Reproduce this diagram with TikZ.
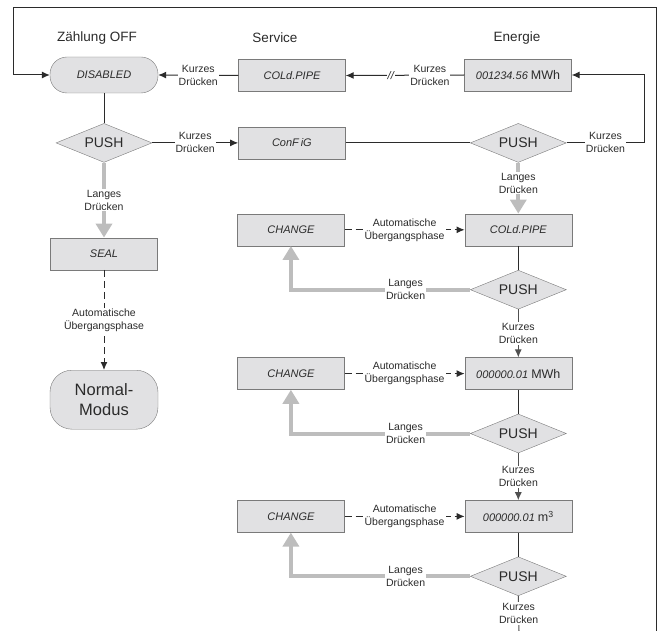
\documentclass[tikz,border=0pt]{standalone}
\usepackage{fontspec}
\setmainfont{Liberation Sans}
\usetikzlibrary{positioning,shapes.geometric,arrows.meta}

\definecolor{boxfill}{HTML}{E1E1E3}
\definecolor{boxline}{HTML}{7A7A7A}
\definecolor{dunkel}{HTML}{2B2B2B}
\definecolor{mittel}{HTML}{505050}
\definecolor{langgrau}{HTML}{BDBDBD}
\newcommand{\anz}{\fontsize{11}{13}\selectfont\itshape}
\newcommand{\einheit}{\upshape\fontsize{12.5}{14}\selectfont}

\tikzset{
  anzeige/.style={draw=boxline,fill=boxfill,minimum width=107pt,minimum height=32pt,inner sep=0pt,font=\anz,text=dunkel},
  kapsel/.style={draw=boxline,fill=boxfill,minimum width=108pt,inner sep=0pt,text=dunkel,align=center},
  push/.style={diamond,draw=boxline,fill=boxfill,minimum width=96pt,minimum height=39pt,inner sep=0pt,aspect=2.4,font=\fontsize{14}{16}\selectfont,text=dunkel},
  lbl/.style={fill=white,align=center,font=\fontsize{10.5}{13}\selectfont,text=dunkel,inner sep=1pt},
  titel/.style={font=\fontsize{13.5}{16}\selectfont,text=dunkel},
  linie/.style={draw=dunkel,line width=1pt},
  kurz/.style={linie,-{Latex[length=8pt,width=7pt]}},
  weiter/.style={draw=mittel,line width=1pt,-{Latex[length=8pt,width=7pt]}},
  lang/.style={draw=langgrau,line width=4pt,-{Triangle[length=14pt,width=16pt]}},
  uebergang/.style={kurz,dash pattern=on 7pt off 4pt},
}

\begin{document}
\begin{tikzpicture}[x=1pt,y=-1pt]
\useasboundingbox (0,0) rectangle (659,631);

% Spaltenkoepfe
\node[titel] (t1) at (97,38) {Zählung OFF};
\node[titel] (t2) at (275,38) {Service};
\node[titel] (t3) at (517,38) {Energie};

% obere Reihe
\node[kapsel,minimum height=36pt,rounded corners=17pt,font=\anz] (dis) at (104,75) {DISABLED};
\node[anzeige] (svc) at (292,75.5) {COLd.PIPE};
\node[anzeige] (en) at (518,75) {001234.56 {\einheit MWh}};

\node[push,below=30pt of dis] (push1) {PUSH};
\node[anzeige,right=86pt of push1] (conf) {ConF\,iG};
\node[push,right=124.5pt of conf] (push2) {PUSH};

% linke Spalte
\node[anzeige,below=75pt of push1] (seal) {SEAL};
\node[kapsel,below=100pt of seal,minimum height=59pt,rounded corners=22pt,font=\fontsize{16.5}{20}\selectfont] (normal) {Normal-\\Modus};

% rechte Spalte
\node[anzeige,below=51pt of push2] (cold2) {COLd.PIPE};
\node[anzeige,left=120pt of cold2] (chg1) {CHANGE};
\node[push,below=24pt of cold2] (push3) {PUSH};

\node[anzeige,below=48pt of push3] (mwh) {000000.01 {\einheit MWh}};
\node[anzeige,left=120pt of mwh] (chg2) {CHANGE};
\node[push,below=24pt of mwh] (push4) {PUSH};

\node[anzeige,below=47pt of push4] (m3) {000000.01 {\einheit m\textsuperscript{3}}};
\node[anzeige,left=120pt of m3] (chg3) {CHANGE};
\node[push,below=24pt of m3] (push5) {PUSH};

\coordinate (rueck) at (656,631);
\coordinate (unten) at (519,631);

% Verbindungen oben
\draw[kurz] (rueck) -- (656,8) -| (13,75) -- (dis.west);
\draw[kurz] (svc.west) -- node[lbl]{Kurzes\\Drücken} (dis.east);
\draw[kurz] (en.west) -- node[lbl,pos=.29]{Kurzes\\Drücken} node[pos=.62,fill=white,inner sep=1pt,font=\anz,text=dunkel]{//} (svc.east);
\draw[kurz] (push2.east) -- node[lbl]{Kurzes\\Drücken} ++(78,0) |- (en.east);
\draw[kurz] (push1.east) -- node[lbl]{Kurzes\\Drücken} (conf.west);
\draw[linie] (conf.east) -- (push2.west);
\draw[linie] (dis.south) -- (push1.north);

% links
\draw[lang] (push1.south) -- node[lbl]{Langes\\Drücken} (seal.north);
\draw[uebergang] (seal.south) -- node[lbl]{Automatische\\Übergangsphase} (normal.north);

% rechts
\draw[lang] (push2.south) -- node[lbl,pos=.4]{Langes\\Drücken} (cold2.north);
\draw[uebergang] (chg1.east) -- node[lbl]{Automatische\\Übergangsphase} (cold2.west);
\draw[linie] (cold2.south) -- (push3.north);
\draw[lang] (push3.west) -| node[lbl,pos=.18]{Langes\\Drücken} (chg1.south);
\draw[weiter] (push3.south) -- node[lbl]{Kurzes\\Drücken} (mwh.north);

\draw[uebergang] (chg2.east) -- node[lbl]{Automatische\\Übergangsphase} (mwh.west);
\draw[linie] (mwh.south) -- (push4.north);
\draw[lang] (push4.west) -| node[lbl,pos=.18]{Langes\\Drücken} (chg2.south);
\draw[weiter] (push4.south) -- node[lbl]{Kurzes\\Drücken} (m3.north);

\draw[uebergang] (chg3.east) -- node[lbl]{Automatische\\Übergangsphase} (m3.west);
\draw[linie] (m3.south) -- (push5.north);
\draw[lang] (push5.west) -| node[lbl,pos=.18]{Langes\\Drücken} (chg3.south);
\draw[draw=mittel,line width=1pt] (push5.south) -- node[lbl]{Kurzes\\Drücken} (unten);
\end{tikzpicture}
\end{document}
